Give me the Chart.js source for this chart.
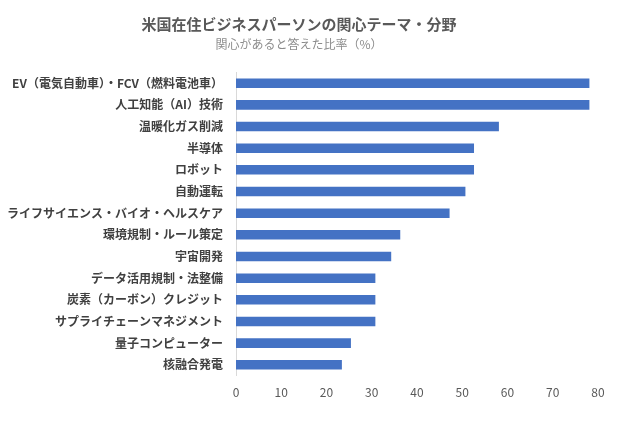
<!DOCTYPE html>
<html>
<head>
<meta charset="utf-8">
<script src="https://cdn.jsdelivr.net/npm/chart.js@4/dist/chart.umd.min.js"></script>
<style>
html,body{margin:0;padding:0;background:#fff;}
#wrap{width:618px;height:421px;}
</style>
</head>
<body>
<div id="wrap"><canvas id="c" width="618" height="421"></canvas></div>
<script>
const categories = [
  "EV（電気自動車）・FCV（燃料電池車）",
  "人工知能（AI）技術",
  "温暖化ガス削減",
  "半導体",
  "ロボット",
  "自動運転",
  "ライフサイエンス・バイオ・ヘルスケア",
  "環境規制・ルール策定",
  "宇宙開発",
  "データ活用規制・法整備",
  "炭素（カーボン）クレジット",
  "サプライチェーンマネジメント",
  "量子コンピューター",
  "核融合発電"
];
const values = [78.1, 78.1, 58.1, 52.6, 52.6, 50.7, 47.2, 36.3, 34.3, 30.8, 30.8, 30.8, 25.4, 23.4];
const xTicks = [0, 10, 20, 30, 40, 50, 60, 70, 80];
const titleText = "米国在住ビジネスパーソンの関心テーマ・分野";
const subtitleText = "関心があると答えた比率（%）";

const FONT = "'Noto Sans CJK JP', 'Noto Sans', sans-serif";

new Chart(document.getElementById('c'), {
  type: 'bar',
  data: {
    labels: categories,
    datasets: [{
      data: values,
      backgroundColor: '#4472C4',
      borderWidth: 0,
      barPercentage: 0.44,
      categoryPercentage: 1.0
    }]
  },
  options: {
    indexAxis: 'y',
    responsive: false,
    animation: false,
    devicePixelRatio: 1,
    layout: { padding: { left: 0, right: 20, top: 0, bottom: 11 } },
    plugins: {
      legend: { display: false },
      tooltip: { enabled: false },
      title: {
        display: true,
        text: titleText,
        color: '#595959',
        font: { family: FONT, size: 15, weight: 'bold' },
        padding: { top: 15, bottom: 4 }
      },
      subtitle: {
        display: true,
        text: subtitleText,
        color: '#8c8c8c',
        font: { family: FONT, size: 12, weight: 'normal' },
        padding: { top: 0, bottom: 21 }
      }
    },
    scales: {
      x: {
        type: 'linear',
        min: 0,
        max: 80,
        afterBuildTicks: (s) => { s.ticks = xTicks.map(v => ({ value: v })); },
        grid: { display: false, drawTicks: false },
        border: { display: false },
        ticks: {
          color: '#595959',
          font: { family: FONT, size: 12 },
          padding: 10
        }
      },
      y: {
        type: 'category',
        grid: { display: false, drawTicks: false },
        border: { display: true, color: '#d9d9d9', width: 1 },
        afterFit: (s) => { s.width = 236; },
        ticks: {
          color: '#404040',
          font: { family: FONT, size: 12, weight: 'bold' },
          padding: 13,
          autoSkip: false
        }
      }
    }
  }
});
</script>
</body>
</html>
